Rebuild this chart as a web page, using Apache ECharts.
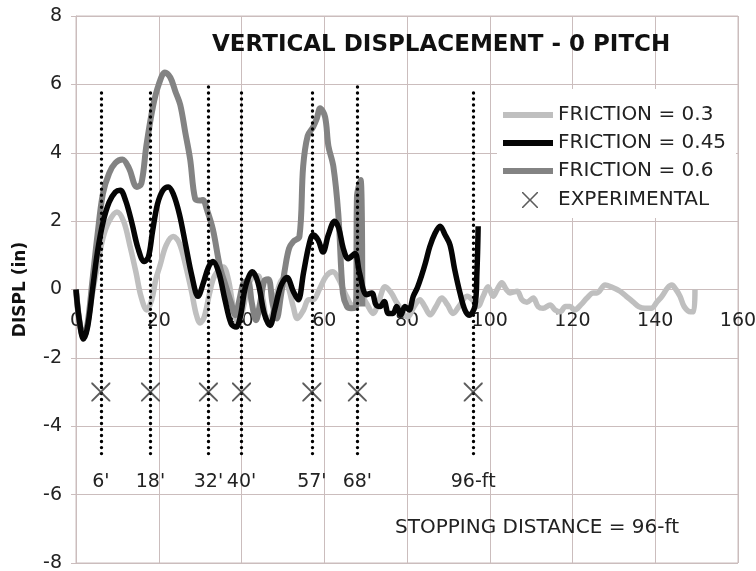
<!DOCTYPE html>
<html><head><meta charset="utf-8">
<script src="https://cdn.jsdelivr.net/npm/echarts@6/dist/echarts.min.js"></script>
<style>html,body{margin:0;padding:0;background:#fff}#c{width:756px;height:571px}</style>
</head><body><div id="c"></div>
<script>
// ---- data ----
const xTicks = [0, 20, 40, 60, 80, 100, 120, 140, 160];
const yTicks = [-8, -6, -4, -2, 0, 2, 4, 6, 8];
const seriesNames = ['FRICTION = 0.3', 'FRICTION = 0.45', 'FRICTION = 0.6', 'EXPERIMENTAL'];

const friction03 = [[0,0],[0.8,-0.9],[1.8,-1.4],[2.8,-1.0],[4,-0.1],[5.2,0.7],[6.5,1.5],[8,2.0],[9.9,2.27],[11.5,2.0],[13,1.3],[14.5,0.5],[15.7,-0.2],[17.1,-0.6],[18.3,-0.3],[19.3,0.3],[20.3,0.7],[21.8,1.3],[23.5,1.55],[25,1.35],[26.5,0.7],[28,-0.1],[29,-0.7],[30,-0.98],[31,-0.8],[32.3,-0.1],[33.5,0.4],[35.6,0.66],[36.8,0.3],[38,-0.5],[39.2,-1.0],[40.3,-0.6],[41.5,0.05],[42.6,0.35],[44,0.4],[45.2,-0.3],[46.3,-0.9],[47.5,-0.7],[48.8,0.0],[50,0.3],[51.2,0.1],[52.5,-0.5],[53.5,-0.85],[55,-0.6],[56.2,-0.3],[57.3,-0.3],[58.8,0.0],[60.5,0.4],[62.1,0.52],[63.5,0.3],[65,-0.1],[67,-0.5],[68.6,-0.1],[70.2,-0.4],[71.8,-0.7],[73.3,-0.3],[74.7,0.08],[76.2,-0.1],[77.6,-0.4],[80.2,-0.8],[81.7,-0.5],[83.1,-0.3],[84.3,-0.5],[85.6,-0.74],[87,-0.5],[88.4,-0.25],[89.8,-0.45],[91.1,-0.7],[92.8,-0.45],[94.5,-0.2],[95.8,-0.3],[97.1,-0.5],[98.4,-0.2],[99.6,0.08],[100.8,-0.2],[101.8,0.0],[102.9,0.2],[104,0.0],[104.9,-0.1],[106.6,-0.05],[107.8,-0.3],[109,-0.37],[110.5,-0.25],[111.7,-0.5],[112.9,-0.55],[114.6,-0.45],[115.8,-0.6],[117,-0.65],[118.3,-0.5],[119.4,-0.5],[120.5,-0.6],[122,-0.45],[123.5,-0.25],[125,-0.1],[125.9,-0.1],[127.9,0.13],[129.3,0.08],[131.5,-0.05],[133,-0.2],[134.7,-0.37],[136,-0.5],[137.5,-0.55],[139,-0.55],[140.5,-0.35],[141.6,-0.2],[143,0.05],[144,0.13],[145,0.0],[146,-0.2],[147,-0.5],[148.5,-0.65],[149.3,-0.65],[149.6,0.0]];

const friction045 = [[0,0],[0.8,-0.9],[1.8,-1.45],[2.8,-1.1],[4,0],[5.2,1.1],[6.5,1.95],[8,2.55],[9.5,2.85],[10.7,2.9],[12,2.6],[13.5,1.95],[15,1.2],[16.5,0.82],[17.5,0.95],[18.5,1.7],[19.7,2.5],[21,2.9],[22.3,3.0],[23.5,2.8],[25,2.2],[26.5,1.3],[28,0.4],[29.5,-0.2],[30.8,0.2],[32,0.65],[33.1,0.82],[34.5,0.5],[36,-0.3],[37.5,-1.0],[38.7,-1.1],[39.7,-0.8],[41,0.1],[42.6,0.52],[44,0.2],[45.5,-0.7],[46.9,-1.05],[48,-0.6],[49.5,0.1],[51,0.35],[52.5,-0.05],[53.7,-0.3],[55,0.5],[56.3,1.3],[57.3,1.6],[58.5,1.45],[59.7,1.1],[61,1.6],[62.5,2.0],[63.5,1.8],[64.6,1.2],[65.8,0.9],[67.4,1.05],[68.5,0.5],[70.2,-0.15],[71.5,-0.1],[72.5,-0.45],[73.5,-0.5],[74.5,-0.35],[75.5,-0.7],[76.6,-0.7],[77.5,-0.5],[78.5,-0.75],[79.5,-0.5],[80.5,-0.6],[81.5,-0.2],[82.5,0.05],[83.5,0.4],[84.5,0.8],[85.5,1.25],[86.8,1.65],[88,1.85],[89.2,1.6],[90.4,1.3],[91.5,0.6],[92.8,-0.1],[94,-0.6],[95,-0.75],[96.4,-0.5],[96.9,0.5],[97.2,1.85]];

const friction06 = [[0,0],[0.8,-0.9],[1.8,-1.4],[2.8,-1.0],[4,0.3],[5.2,1.6],[6.5,2.8],[8,3.4],[9.5,3.7],[11.2,3.8],[12.8,3.55],[14.7,3.0],[15.8,3.1],[17,4.2],[18.6,5.35],[20,6.0],[21.5,6.35],[22.8,6.2],[24,5.8],[25.2,5.4],[26.4,4.6],[27.6,3.8],[28.8,2.65],[30,2.6],[30.7,2.62],[31.6,2.35],[33.1,1.75],[34.8,0.66],[36.2,0.1],[37.5,-0.4],[38.5,-0.75],[39.5,-0.3],[40.5,0.2],[41.5,0.25],[42.5,-0.4],[43.5,-0.9],[44.5,-0.4],[45.5,0.25],[46.5,0.3],[47.5,-0.4],[48.5,-0.85],[49.5,-0.2],[50.5,0.6],[51.5,1.2],[52.5,1.4],[54,1.55],[54.9,3.6],[56,4.5],[57.3,4.75],[58.2,5.0],[59,5.3],[60.2,5.05],[61,4.2],[62.2,3.6],[63.4,2.2],[64.5,-0.1],[65.5,-0.5],[66.5,-0.55],[67.7,-0.5],[67.9,2.7],[68.8,3.2],[69.2,-0.5]];

const expX = [6, 18, 32, 40, 57, 68, 96];
const expY = [-3, -3, -3, -3, -3, -3, -3];
const expLabels = ["6'", "18'", "32'", "40'", "57'", "68'", "96-ft"];
const dotTop = [5.85, 5.85, 6.05, 5.85, 5.85, 6.05, 5.85];
const dotBottom = -4.8;
const stopText = 'STOPPING DISTANCE = 96-ft';
const titleText = 'VERTICAL DISPLACEMENT - 0 PITCH';

// ---- chart ----
const gridColor = '#cbbdbd';
const xPath = 'path://M0,0 L1.4,0 L10,8.6 L18.6,0 L20,0 L20,1.4 L11.4,10 L20,18.6 L20,20 L18.6,20 L10,11.4 L1.4,20 L0,20 L0,18.6 L8.6,10 L0,1.4 Z';
const font = 'DejaVu Sans';
const W = 756, H = 571;
const gridTop = 16, gridBottom = 8;
// put the x axis on y = 0 (fraction of plot height)
const plotH = H - gridTop - gridBottom;
const zeroOffset = -plotH * (0 - yTicks[0]) / (yTicks[yTicks.length - 1] - yTicks[0]);

const chart = echarts.init(document.getElementById('c'), null, {renderer: 'canvas'});
chart.setOption({
  animation: false,
  backgroundColor: '#fff',
  title: [
    {text: titleText, left: 212, top: 34, padding: 0,
     textStyle: {fontFamily: font, fontWeight: 'bold', fontSize: 23, color: '#111'}},
    {text: stopText, left: 395, top: 518, padding: 0,
     textStyle: {fontFamily: font, fontWeight: 'normal', fontSize: 20, color: '#222'}}
  ],
  graphic: [{type: 'rect', z: 1, silent: true,
    shape: {x: 497, y: 89, width: 239, height: 129}, style: {fill: '#fff'}}],
  legend: [
    {data: seriesNames.slice(0, 3), orient: 'vertical', left: 503, top: 104, padding: 0,
     itemWidth: 50, itemHeight: 6, itemGap: 6, icon: 'rect',
     textStyle: {fontFamily: font, fontSize: 20, color: '#222', lineHeight: 22}},
    {data: [{name: seriesNames[3], icon: xPath}], orient: 'vertical', left: 522, top: 189, padding: 0,
     itemWidth: 16, itemHeight: 16, icon: xPath,
     textStyle: {fontFamily: font, fontSize: 20, color: '#222', lineHeight: 22, padding: [0, 0, 0, 15]}}
  ],
  grid: {left: 76, right: 18, top: gridTop, bottom: gridBottom, show: true, borderColor: gridColor, borderWidth: 1,
         containLabel: false, outerBoundsMode: 'none'},
  xAxis: {
    type: 'value', min: xTicks[0], max: xTicks[xTicks.length - 1], interval: 20,
    position: 'bottom', offset: zeroOffset,
    axisLine: {onZero: false, lineStyle: {color: gridColor}},
    axisTick: {show: false},
    axisLabel: {fontFamily: font, fontSize: 19, color: '#222', margin: 22},
    splitLine: {lineStyle: {color: gridColor}}
  },
  yAxis: {
    type: 'value', min: yTicks[0], max: yTicks[yTicks.length - 1], interval: 2,
    name: 'DISPL (in)', nameLocation: 'middle', nameGap: 47,
    nameTextStyle: {fontFamily: font, fontWeight: 'bold', fontSize: 17, color: '#111'},
    axisLine: {show: true, onZero: false, lineStyle: {color: gridColor}},
    axisTick: {show: true, length: 5, lineStyle: {color: gridColor}},
    axisLabel: {fontFamily: font, fontSize: 19, color: '#222', margin: 14},
    splitLine: {lineStyle: {color: gridColor}}
  },
  series: [
    {name: seriesNames[0], type: 'line', data: friction03, showSymbol: false, smooth: 0.35, z: 2,
     color: '#bfbfbf', lineStyle: {width: 5.5, color: '#bfbfbf'}},
    {name: seriesNames[1], type: 'line', data: friction045, showSymbol: false, smooth: 0.35, z: 4,
     color: '#050505', lineStyle: {width: 5.5, color: '#050505'}},
    {name: seriesNames[2], type: 'line', data: friction06, showSymbol: false, smooth: 0.35, z: 3,
     color: '#838383', lineStyle: {width: 6, color: '#838383'}},
    {name: seriesNames[3], type: 'scatter', z: 6,
     data: expX.map((x, i) => [x, expY[i]]),
     symbol: xPath, symbolSize: 19, color: '#333', itemStyle: {color: '#333'},
     markLine: {
       silent: true, symbol: ['none', 'none'], animation: false,
       lineStyle: {type: [0.01, 6], cap: 'round', width: 3.4, color: '#000'},
       label: {show: true, position: 'start', distance: 19, formatter: p => p.name,
         fontFamily: font, fontSize: 19, color: '#222'},
       data: expX.map((x, i) => [
         {coord: [x, dotBottom], name: expLabels[i]},
         {coord: [x, dotTop[i]]}
       ])
     }}
  ]
});
</script></body></html>
